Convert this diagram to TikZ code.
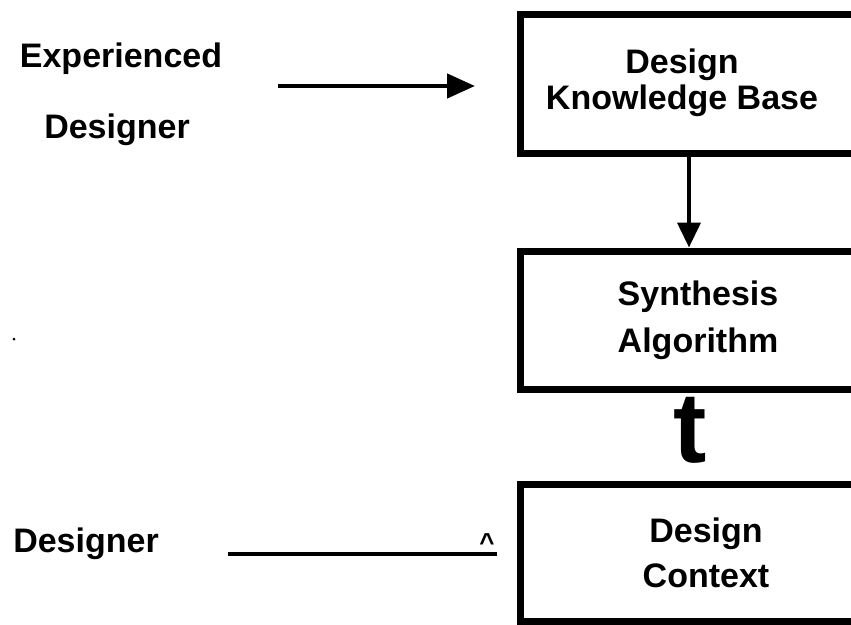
\documentclass[tikz,border=0pt]{standalone}
\usepackage{fontspec}
\setmainfont{Liberation Sans}
\usetikzlibrary{arrows.meta}

\begin{document}
\begin{tikzpicture}[x=1pt,y=-1pt,
    block/.style={draw,line width=7pt,minimum width=338pt,inner sep=0pt},
    lbl/.style={font=\fontsize{34}{40}\selectfont\bfseries,inner sep=0pt},
    flow/.style={line width=4.5pt,-{Triangle[length=28pt,width=24pt]}}]
      \useasboundingbox (0,0) rectangle (851,624);
      \clip (0,0) rectangle (851,624);

      % the three boxes, cut off on the right
      \node[block,minimum height=139pt] (kb) at (689,83.5) {};
      \node[block,minimum height=138pt] (syn) at (689,320) {};
      \node[block,minimum height=137pt] (ctx) at (689,552.5) {};

      \node[lbl,align=center,font=\fontsize{34}{36}\selectfont\bfseries] (kbtext) at (682,83) {Design\\Knowledge Base};
      \node[lbl,align=center,font=\fontsize{34}{47}\selectfont\bfseries] (syntext) at (698,320.5) {Synthesis\\Algorithm};
      \node[lbl,align=center,font=\fontsize{34}{45}\selectfont\bfseries] (ctxtext) at (706,553) {Design\\Context};

      % who feeds what
      \node[lbl,anchor=base] (exp) at (121,67) {Experienced};
      \node[lbl,anchor=base] (expdes) at (117,138) {Designer};
      \node[lbl,anchor=base] (des) at (86,552) {Designer};

      \coordinate (expout) at (278,86);
      \draw[flow,shorten >=41.5pt] (expout) -- (expout -| kb.west);
      \draw[line width=4pt,-{Triangle[length=25pt,width=23pt]}] (kb.south) -- (syn.north);

      \node[font=\fontsize{100}{100}\selectfont\bfseries,inner sep=0pt] (upmark) at (690,430) {t};

      \coordinate (desout) at (228,554);
      \draw[line width=4pt,shorten >=19.5pt] (desout) -- (desout -| ctx.west);
      \node[font=\fontsize{26}{26}\selectfont\bfseries,inner sep=0pt] (caret) at (487,543) {\textasciicircum};

      \fill (14,339) circle (1.5pt);
    \end{tikzpicture}
\end{document}
